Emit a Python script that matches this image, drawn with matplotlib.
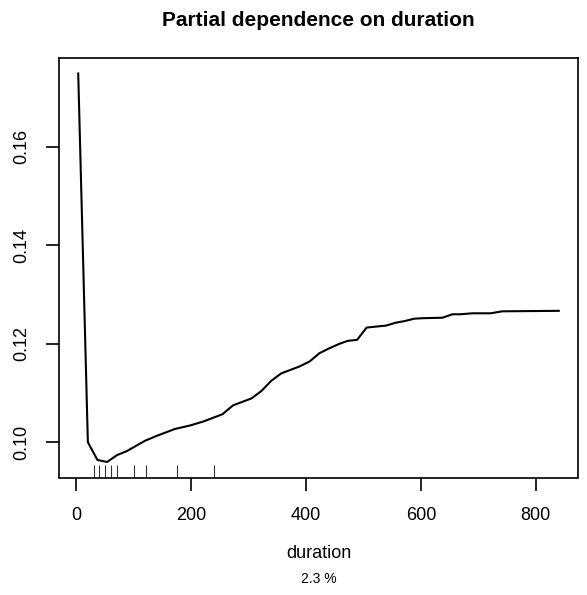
import numpy as np
import matplotlib
matplotlib.use('Agg')
import matplotlib.pyplot as plt
import matplotlib.transforms as mtransforms

plt.rcParams['font.family'] = ['Liberation Sans', 'DejaVu Sans']

# partial dependence values
duration = [3, 19.8, 36.5, 53.3, 70.7, 87.5, 119.3, 139.6, 171.4, 197.4,
            220.5, 254.2, 272.6, 304.6, 321.9, 339.3, 356.7, 388.4, 405.8,
            423.2, 440.5, 457.9, 472.3, 488.6, 505.3, 521.6, 539, 556.4,
            570.8, 588.1, 602.6, 637.3, 654.6, 669.2, 689.4, 721.3, 741.5, 839.9]
pd_value = [0.1749, 0.1000, 0.0964, 0.0960, 0.0974, 0.0982, 0.1003, 0.1013,
            0.1027, 0.1034, 0.1042, 0.1057, 0.1075, 0.1089, 0.1104, 0.1125,
            0.1140, 0.1154, 0.1164, 0.1181, 0.1191, 0.1200, 0.1206, 0.1208,
            0.1233, 0.1235, 0.1237, 0.1243, 0.1246, 0.1251, 0.1252, 0.1253,
            0.1260, 0.1260, 0.1262, 0.1262, 0.1266, 0.1267]
# deciles of duration (rug)
rug_x = [30, 40, 50, 60, 71, 100, 121, 175, 240]

xticks = [0, 200, 400, 600, 800]
yticks = [0.10, 0.12, 0.14, 0.16]

fig = plt.figure(figsize=(5.87, 5.95), dpi=100)
ax = fig.add_axes([59 / 587, 1 - 477.5 / 595, (578 - 59) / 587, (477.5 - 58) / 595])

ax.plot(duration, pd_value, color='black', lw=1.5)

# R style 4% axis extension
xr = max(duration) - min(duration)
yr = max(pd_value) - min(pd_value)
ax.set_xlim(min(duration) - 0.04 * xr, max(duration) + 0.04 * xr)
ax.set_ylim(min(pd_value) - 0.04 * yr, max(pd_value) + 0.04 * yr)

trans = mtransforms.blended_transform_factory(ax.transData, ax.transAxes)
ax.vlines(rug_x, 0, 0.03, transform=trans, color='#333333', lw=0.8)

ax.set_xticks(xticks)
ax.set_xticklabels([str(t) for t in xticks])
ax.set_yticks(yticks)
ax.set_yticklabels(['%.2f' % t for t in yticks])
ax.tick_params(axis='both', direction='out', length=9.5, width=1.2,
               labelsize=13, color='black')
ax.tick_params(axis='x', pad=11.5)
ax.tick_params(axis='y', pad=11)
plt.setp(ax.get_yticklabels(), rotation=90, va='center')
for s in ax.spines.values():
    s.set_linewidth(1.2)

cx = (59 + 578) / 2 / 587
fig.text(cx, 1 - 21 / 595, 'Partial dependence on duration', ha='center',
         va='center', fontsize=15, fontweight='bold')
fig.text(cx, 1 - 553 / 595, 'duration', ha='center', va='center', fontsize=13)
fig.text(cx, 1 - 579 / 595, '2.3 %', ha='center', va='center', fontsize=10)

fig.savefig('out.png', dpi=100)
